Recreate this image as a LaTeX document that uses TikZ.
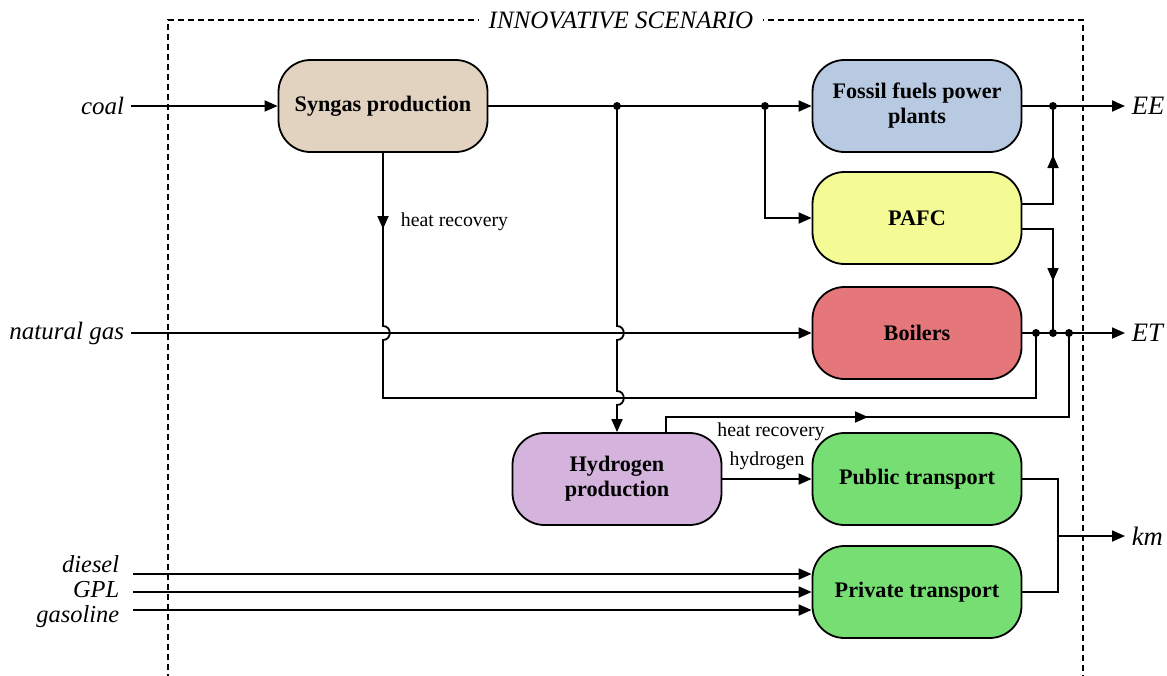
\documentclass[tikz,border=0pt]{standalone}
\usepackage{fontspec}
\setmainfont{Liberation Serif}
\usetikzlibrary{arrows.meta}
\definecolor{syncol}{RGB}{226,211,192}
\definecolor{fosscol}{RGB}{184,201,226}
\definecolor{pafccol}{RGB}{244,251,148}
\definecolor{boilcol}{RGB}{229,118,122}
\definecolor{hydcol}{RGB}{212,179,220}
\definecolor{trancol}{RGB}{119,222,116}

\begin{document}
\begin{tikzpicture}[x=0.5pt,y=-0.5pt,line width=0.9pt,
  proc/.style={draw,rounded corners=16pt,minimum width=104.5pt,minimum height=46pt,
    align=center,font=\fontsize{11.1}{12.5}\selectfont\bfseries},
  flow/.style={-{Triangle[length=6.5pt,width=5.5pt]}},
  inlbl/.style={font=\fontsize{12.5}{14}\selectfont\itshape,inner sep=3pt},
  fuel/.style={font=\fontsize{12.2}{13}\selectfont\itshape,inner sep=0pt,anchor=east},
  outlbl/.style={font=\fontsize{13.3}{15}\selectfont\itshape,inner sep=3pt},
  note/.style={font=\fontsize{9.9}{11}\selectfont,inner sep=1pt},
  dot/.style={circle,fill,inner sep=0pt,minimum size=4pt}]
  \useasboundingbox (0,0) rectangle (1167,675);
  \draw[dash pattern=on 3pt off 2pt,line width=0.6pt] (168,700) -- (168,20) -- (1083,20) -- (1083,700);
  \node[inlbl,fill=white,inner sep=5pt] (title) at (621,20) {INNOVATIVE SCENARIO};

  \node[proc,fill=syncol] (syn) at (383,106) {Syngas production};
  \node[proc,fill=fosscol] (ffp) at (917,106) {Fossil fuels power\\plants};
  \node[proc,fill=pafccol] (pafc) at (917,218) {PAFC};
  \node[proc,fill=boilcol] (boil) at (917,333) {Boilers};
  \node[proc,fill=hydcol] (hyd) at (617,479) {Hydrogen\\production};
  \node[proc,fill=trancol] (pub) at (917,479) {Public transport};
  \node[proc,fill=trancol] (priv) at (917,592) {Private transport};

  \node[inlbl,anchor=east] (coal) at (131,106) {coal};
  \node[inlbl,anchor=east] (ng) at (131,333) {natural gas};
  \node[fuel] (dsl) at (120,564) {diesel};
  \node[fuel,text depth=0pt] (gpl) at (120,589) {GPL};
  \node[fuel] (gsl) at (120,617) {gasoline};
  \node[outlbl,anchor=west] (ee) at (1125,106) {EE};
  \node[outlbl,anchor=west] (et) at (1125,333) {ET};
  \node[outlbl,anchor=west] (km) at (1125,536) {km};

  \node[dot] (j1) at (617,106) {};
  \node[dot] (j2) at (765,106) {};
  \node[dot] (e1) at (1053,106) {};
  \node[dot] (k1) at (1036,333) {};
  \node[dot] (k2) at (1053,333) {};
  \node[dot] (k3) at (1069,333) {};
  \coordinate (m) at (1058,536);
  \coordinate (d1) at (133,574);
  \coordinate (d2) at (133,592);
  \coordinate (d3) at (133,610);

  \draw[flow] (coal.east) -- (syn.west);
  \draw[flow] (syn.east) -- (ffp.west);
  \draw[flow] (j2.center) |- (pafc.west);
  \draw[flow] (j1.center) -- (617,326) .. controls (626,326) and (626,340) .. (617,340)
    -- (617,391) .. controls (626,391) and (626,405) .. (617,405) -- (hyd.north);
  \draw[flow] (ng.east) -- (boil.west);
  \draw[flow] (syn.south) -- (383,229);
  \draw (383,225) -- (383,326) .. controls (392,326) and (392,340) .. (383,340)
    -- (383,398) -- (1036,398) -- (k1.center);
  \node[note,anchor=west] (hr1) at (398,222) {heat recovery};

  \draw[flow] (ffp.east) -- (ee.west);
  \draw[flow] (pafc.east |- 0,204) -| (1053,155);
  \draw (1053,160) -- (e1.center);
  \draw[flow] (pafc.east |- 0,229) -| (1053,281);
  \draw (1053,276) -- (k2.center);
  \draw[flow] (boil.east) -- (et.west);

  \draw[flow] (hyd.north -| 666,0) |- (868,417);
  \draw (863,417) -| (k3.center);
  \node[note] (hr2) at (771,432) {heat recovery};
  \draw[flow] (hyd.east) -- node[note,above=3pt] {hydrogen} (pub.west);

  \draw (pub.east) -| (m) |- (priv.east);
  \draw[flow] (m) -- (km.west);
  \draw[flow] (d1) -- (d1 -| priv.west);
  \draw[flow] (d2) -- (d2 -| priv.west);
  \draw[flow] (d3) -- (d3 -| priv.west);
\end{tikzpicture}
\end{document}
